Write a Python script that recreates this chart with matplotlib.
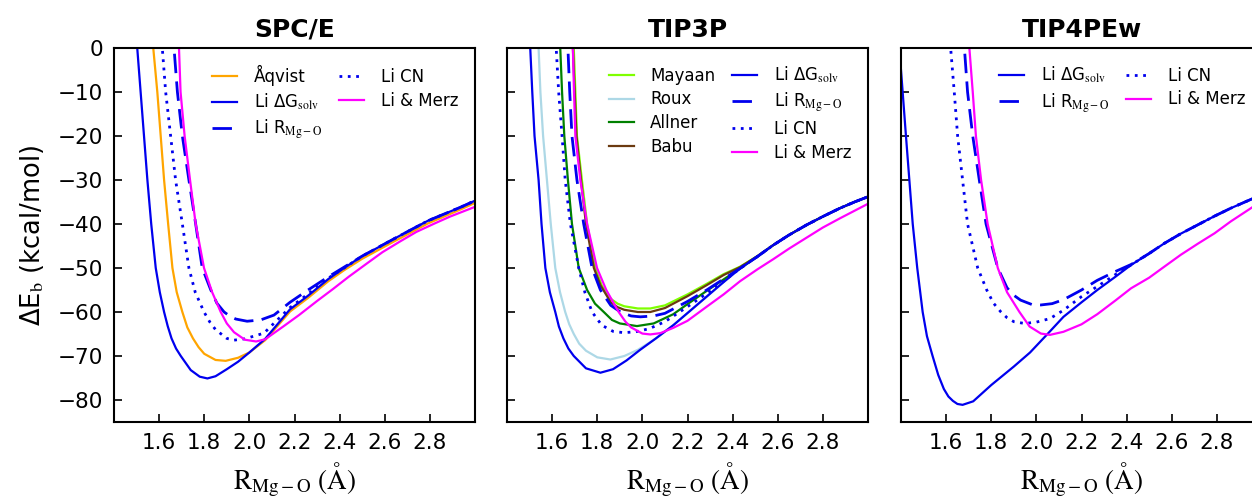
import numpy as np
import matplotlib
matplotlib.use("Agg")
import matplotlib.pyplot as plt

plt.rcParams["mathtext.fontset"] = "stix"
plt.rcParams["font.family"] = "DejaVu Sans"

# ---- data (x in Angstrom, y in kcal/mol) ----
# SPC/E
spce_aqvist_x = [1.568, 1.574, 1.592, 1.607, 1.622, 1.64, 1.659, 1.678, 1.703, 1.725, 1.75, 1.775, 1.80, 1.85, 1.895, 1.95, 2.0, 2.07, 2.18, 2.26, 2.35, 2.42, 2.5, 2.64, 2.79, 2.94, 3.0]
spce_aqvist_y = [5, 0, -10, -20, -30, -40, -50, -55.5, -60, -63.5, -66, -68, -69.5, -70.9, -71.1, -70.4, -69.2, -66.4, -59.9, -56.8, -53.0, -50.5, -47.9, -44.0, -39.9, -36.6, -35.2]
spce_dg_x = [1.495, 1.503, 1.518, 1.533, 1.548, 1.565, 1.585, 1.603, 1.622, 1.638, 1.655, 1.675, 1.696, 1.74, 1.78, 1.814, 1.85, 1.9, 1.95, 2.0, 2.07, 2.18, 2.26, 2.35, 2.42, 2.5, 2.64, 2.79, 2.94, 3.0]
spce_dg_y = [5, 0, -10, -20, -30, -40, -50, -55.5, -60, -63.2, -66, -68.3, -70, -73.2, -74.7, -75.1, -74.6, -73.0, -71.3, -69.2, -66.1, -59.4, -56.3, -52.5, -50.0, -47.3, -43.4, -39.3, -36.1, -34.7]
spce_r_x = [1.662, 1.666, 1.681, 1.703, 1.732, 1.762, 1.791, 1.829, 1.856, 1.888, 1.915, 1.94, 1.99, 2.05, 2.109, 2.18, 2.26, 2.35, 2.42, 2.5, 2.64, 2.79, 2.94, 3.0]
spce_r_y = [5, 0, -10, -20, -30, -40, -50, -55, -58.0, -60, -61.0, -61.6, -62.1, -61.8, -60.7, -57.8, -55.0, -52.0, -49.8, -47.3, -43.4, -39.3, -36.1, -34.7]
spce_cn_x = [1.61, 1.614, 1.629, 1.651, 1.673, 1.703, 1.732, 1.76, 1.799, 1.825, 1.85, 1.9, 1.932, 1.98, 2.065, 2.11, 2.18, 2.26, 2.35, 2.42, 2.5, 2.64, 2.79, 2.94, 3.0]
spce_cn_y = [5, 0, -10, -20, -30, -40, -50, -55.5, -60, -62.3, -64, -66, -66.4, -66.1, -64.8, -62.5, -59.0, -55.9, -52.3, -50.0, -47.3, -43.4, -39.3, -36.1, -34.7]
spce_merz_x = [1.684, 1.688, 1.695, 1.713, 1.737, 1.762, 1.799, 1.835, 1.873, 1.90, 1.932, 1.98, 2.03, 2.07, 2.15, 2.22, 2.30, 2.37, 2.44, 2.52, 2.59, 2.67, 2.74, 2.82, 2.89, 3.0]
spce_merz_y = [5, 0, -10, -20, -30, -40, -50, -55.5, -60, -62.6, -64.6, -66.3, -66.7, -66.2, -63.3, -60.7, -57.5, -54.8, -52.0, -49.0, -46.4, -43.9, -41.8, -39.9, -38.3, -36.1]

# TIP3P
tip3_dg_x = [1.495, 1.503, 1.512, 1.522, 1.54, 1.553, 1.57, 1.59, 1.614, 1.63, 1.65, 1.672, 1.696, 1.75, 1.814, 1.87, 1.93, 1.99, 2.06, 2.137, 2.21, 2.285, 2.36, 2.433, 2.51, 2.58, 2.65, 2.728, 2.8, 2.876, 2.94, 3.0]
tip3_dg_y = [5, 0, -10, -20, -30, -40, -50, -55.5, -60, -63.3, -66, -68.3, -70, -72.8, -73.8, -73.0, -71.0, -68.6, -66.0, -63.0, -59.8, -56.5, -53.2, -50.1, -47.4, -44.8, -42.5, -40.2, -38.3, -36.4, -35.0, -33.8]
tip3_mayaan_x = [1.692, 1.696, 1.703, 1.71, 1.732, 1.755, 1.791, 1.82, 1.86, 1.89, 1.92, 1.98, 2.035, 2.1, 2.2, 2.285, 2.36, 2.433, 2.51, 2.58, 2.65, 2.728, 2.8, 2.876, 2.94, 3.0]
tip3_mayaan_y = [5, 0, -10, -20, -30, -40, -50, -54, -57, -58.1, -58.7, -59.2, -59.2, -58.5, -56.0, -53.6, -51.4, -49.7, -47.3, -44.8, -42.5, -40.2, -38.3, -36.4, -35.0, -33.8]
tip3_roux_x = [1.535, 1.54, 1.548, 1.56, 1.577, 1.594, 1.614, 1.635, 1.658, 1.676, 1.696, 1.72, 1.75, 1.8, 1.858, 1.92, 1.98, 2.03, 2.06, 2.137, 2.21, 2.285, 2.36, 2.433, 2.51, 2.58, 2.65, 2.728, 2.8, 2.876, 2.94, 3.0]
tip3_roux_y = [5, 0, -10, -20, -30, -40, -50, -55.5, -60, -62.8, -65, -67.2, -68.8, -70.3, -70.8, -70.0, -68.6, -67.0, -66.0, -63.0, -59.8, -56.5, -53.2, -50.1, -47.4, -44.8, -42.5, -40.2, -38.3, -36.4, -35.0, -33.8]
tip3_allner_x = [1.632, 1.636, 1.644, 1.654, 1.67, 1.688, 1.718, 1.755, 1.79, 1.829, 1.865, 1.9, 1.976, 2.05, 2.137, 2.2, 2.285, 2.36, 2.433, 2.51, 2.58, 2.65, 2.728, 2.8, 2.876, 2.94, 3.0]
tip3_allner_y = [5, 0, -10, -20, -30, -40, -50, -55, -58.1, -60, -61.8, -62.6, -63.2, -62.6, -60.5, -58.2, -55.2, -52.6, -50.1, -47.4, -44.8, -42.5, -40.2, -38.3, -36.4, -35.0, -33.8]
tip3_babu_x = [1.688, 1.692, 1.7, 1.708, 1.728, 1.75, 1.785, 1.815, 1.86, 1.89, 1.92, 1.98, 2.035, 2.1, 2.2, 2.285, 2.36, 2.433, 2.51, 2.58, 2.65, 2.728, 2.8, 2.876, 2.94, 3.0]
tip3_babu_y = [5, 0, -10, -20, -30, -40, -50, -54, -57.8, -58.9, -59.5, -60.0, -60.0, -59.1, -56.4, -53.9, -51.6, -49.8, -47.3, -44.8, -42.5, -40.2, -38.3, -36.4, -35.0, -33.8]
tip3_r_x = [1.666, 1.67, 1.678, 1.688, 1.71, 1.74, 1.777, 1.814, 1.86, 1.903, 1.95, 1.991, 2.05, 2.1, 2.2, 2.285, 2.36, 2.433, 2.51, 2.58, 2.65, 2.728, 2.8, 2.876, 2.94, 3.0]
tip3_r_y = [5, 0, -10, -20, -30, -40, -50, -55, -58.5, -60, -60.9, -61.1, -60.9, -60.3, -57.6, -55.0, -52.5, -50.1, -47.4, -44.8, -42.5, -40.2, -38.3, -36.4, -35.0, -33.8]
tip3_cn_x = [1.614, 1.618, 1.629, 1.644, 1.658, 1.681, 1.718, 1.745, 1.777, 1.82, 1.87, 1.917, 1.97, 2.03, 2.1, 2.2, 2.285, 2.36, 2.433, 2.51, 2.58, 2.65, 2.728, 2.8, 2.876, 2.94, 3.0]
tip3_cn_y = [5, 0, -10, -20, -30, -40, -50, -55.5, -60, -63, -64.4, -64.7, -64.5, -63.8, -62.2, -58.8, -55.8, -53.0, -50.1, -47.4, -44.8, -42.5, -40.2, -38.3, -36.4, -35.0, -33.8]
tip3_merz_x = [1.688, 1.692, 1.697, 1.703, 1.725, 1.755, 1.799, 1.84, 1.895, 1.925, 1.95, 2.0, 2.035, 2.08, 2.137, 2.2, 2.285, 2.36, 2.433, 2.51, 2.58, 2.65, 2.728, 2.8, 2.876, 2.94, 3.0]
tip3_merz_y = [5, 0, -10, -20, -30, -40, -50, -55, -60, -62.2, -63.5, -64.9, -65.1, -64.8, -63.6, -62.0, -58.8, -56.0, -53.0, -50.3, -48.0, -45.6, -43.1, -40.8, -38.7, -37.0, -35.4]

# TIP4PEw
tip4_dg_x = [1.4, 1.422, 1.437, 1.452, 1.472, 1.496, 1.515, 1.54, 1.565, 1.59, 1.61, 1.63, 1.65, 1.673, 1.72, 1.8, 1.9, 1.972, 2.053, 2.12, 2.2, 2.27, 2.35, 2.42, 2.5, 2.567, 2.64, 2.715, 2.79, 2.862, 2.96, 3.0]
tip4_dg_y = [-5, -20, -30, -40, -50, -60, -65.5, -70, -74.3, -77.5, -79.2, -80.2, -80.9, -81.1, -80.3, -76.6, -72.4, -69.2, -64.8, -61.1, -57.8, -55.0, -52.0, -49.3, -46.7, -44.4, -42.2, -40.2, -38.2, -36.4, -34.2, -33.4]
tip4_r_x = [1.677, 1.681, 1.695, 1.718, 1.747, 1.777, 1.829, 1.87, 1.90, 1.93, 1.98, 2.02, 2.07, 2.12, 2.2, 2.27, 2.35, 2.42, 2.5, 2.567, 2.64, 2.715, 2.79, 2.862, 2.96, 3.0]
tip4_r_y = [5, 0, -10, -20, -30, -40, -50, -54.5, -56.2, -57.3, -58.3, -58.4, -58.1, -57.2, -55.0, -52.8, -50.8, -49.2, -46.7, -44.4, -42.2, -40.2, -38.2, -36.4, -34.2, -33.4]
tip4_cn_x = [1.616, 1.62, 1.636, 1.651, 1.673, 1.695, 1.74, 1.78, 1.81, 1.843, 1.87, 1.9, 1.947, 2.0, 2.06, 2.12, 2.2, 2.27, 2.35, 2.42, 2.5, 2.567, 2.64, 2.715, 2.79, 2.862, 2.96, 3.0]
tip4_cn_y = [5, 0, -10, -20, -30, -40, -50, -55, -58, -60, -61.3, -62.2, -62.6, -62.3, -61.5, -59.6, -56.5, -54.2, -51.5, -49.3, -46.7, -44.4, -42.2, -40.2, -38.2, -36.4, -34.2, -33.4]
tip4_merz_x = [1.699, 1.703, 1.718, 1.732, 1.755, 1.784, 1.829, 1.87, 1.925, 1.97, 2.02, 2.06, 2.12, 2.2, 2.27, 2.35, 2.42, 2.5, 2.567, 2.64, 2.715, 2.79, 2.862, 2.96, 3.0]
tip4_merz_y = [5, 0, -10, -20, -30, -40, -50, -55.5, -60, -63.3, -64.9, -65.2, -64.5, -62.8, -60.5, -57.4, -54.6, -52.2, -49.7, -47.0, -44.5, -42.1, -39.4, -36.1, -35.0]

titles = ["SPC/E", "TIP3P", "TIP4PEw"]
xticks = [1.6, 1.8, 2.0, 2.2, 2.4, 2.6, 2.8]
yticks = [0, -10, -20, -30, -40, -50, -60, -70, -80]

lbl_dg = "Li ΔG$_\\mathrm{solv}$"
lbl_r = "Li R$_\\mathrm{Mg-O}$"
lbl_cn = "Li CN"
lbl_merz = "Li & Merz"

blue = "#0000ee"
dash = (0, (7, 3))
dot = (0, (1, 2))

W, H = 1252, 500
fig = plt.figure(figsize=(W / 100, H / 100), dpi=100)
lefts = [114, 507, 901]
axes = [fig.add_axes([l / W, 78 / H, 361 / W, 374 / H]) for l in lefts]

lw = 1.6
ax = axes[0]
ax.plot(spce_aqvist_x, spce_aqvist_y, color="#ffa500", lw=lw, label="Åqvist")
ax.plot(spce_dg_x, spce_dg_y, color=blue, lw=lw, label=lbl_dg)
ax.plot(spce_r_x, spce_r_y, color=blue, lw=2, linestyle=dash, label=lbl_r)
ax.plot(spce_cn_x, spce_cn_y, color=blue, lw=2, linestyle=dot, label=lbl_cn)
ax.plot(spce_merz_x, spce_merz_y, color="#ff00ff", lw=lw, label=lbl_merz)

ax = axes[1]
ax.plot(tip3_mayaan_x, tip3_mayaan_y, color="#7fff00", lw=lw, label="Mayaan")
ax.plot(tip3_roux_x, tip3_roux_y, color="#add8e6", lw=lw, label="Roux")
ax.plot(tip3_allner_x, tip3_allner_y, color="#008000", lw=lw, label="Allner")
ax.plot(tip3_babu_x, tip3_babu_y, color="#6b3a10", lw=lw, label="Babu")
ax.plot(tip3_dg_x, tip3_dg_y, color=blue, lw=lw, label=lbl_dg)
ax.plot(tip3_r_x, tip3_r_y, color=blue, lw=2, linestyle=dash, label=lbl_r)
ax.plot(tip3_cn_x, tip3_cn_y, color=blue, lw=2, linestyle=dot, label=lbl_cn)
ax.plot(tip3_merz_x, tip3_merz_y, color="#ff00ff", lw=lw, label=lbl_merz)

ax = axes[2]
ax.plot(tip4_dg_x, tip4_dg_y, color=blue, lw=lw, label=lbl_dg)
ax.plot(tip4_r_x, tip4_r_y, color=blue, lw=2, linestyle=dash, label=lbl_r)
ax.plot(tip4_cn_x, tip4_cn_y, color=blue, lw=2, linestyle=dot, label=lbl_cn)
ax.plot(tip4_merz_x, tip4_merz_y, color="#ff00ff", lw=lw, label=lbl_merz)

for i, ax in enumerate(axes):
    ax.set_xlim(1.4, 3.0)
    ax.set_ylim(-85, 0)
    ax.set_xticks(xticks)
    ax.set_xticklabels([f"{t:.1f}" for t in xticks])
    ax.set_yticks(yticks)
    ax.tick_params(direction="in", length=6, width=1.2, labelsize=15.5, pad=8,
                   top=False, right=False)
    for s in ax.spines.values():
        s.set_linewidth(1.5)
    ax.set_title(titles[i], fontsize=18, fontweight="bold", pad=8)
    ax.set_xlabel("$\\mathrm{R_{Mg-O}\\ (Å)}$", fontsize=19.5, labelpad=5)
    if i == 0:
        ax.set_ylabel("ΔE$_\\mathrm{b}$ (kcal/mol)", fontsize=18.5, labelpad=8)
    else:
        ax.set_yticklabels([])
    ax.legend(loc="upper right", ncol=2, frameon=False, fontsize=12,
              handlelength=1.5, handletextpad=1.0, columnspacing=1.0,
              labelspacing=0.35, borderaxespad=0.6)

fig.savefig("out.png", dpi=100)
